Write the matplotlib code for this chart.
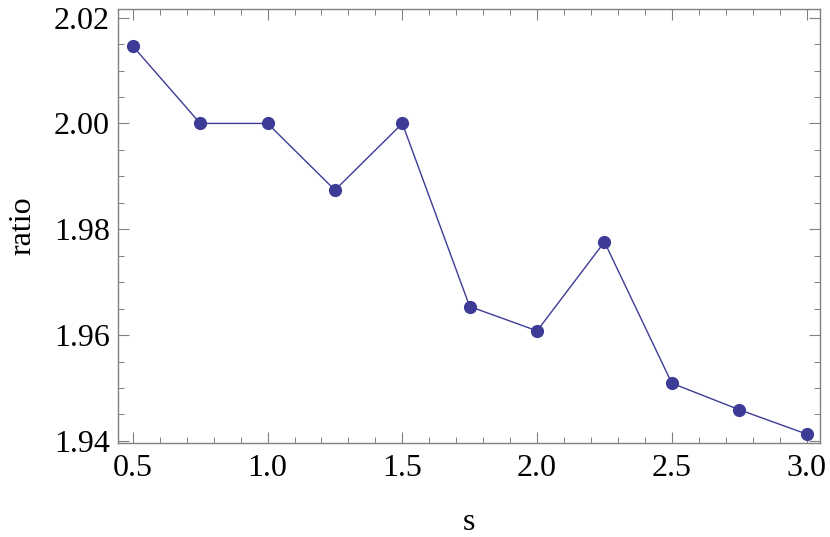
import matplotlib
matplotlib.use("Agg")
import matplotlib.pyplot as plt
from matplotlib.ticker import MultipleLocator, FormatStrFormatter

s_values = [0.5, 0.75, 1.0, 1.25, 1.5, 1.75, 2.0, 2.25, 2.5, 2.75, 3.0]
ratio_values = [2.0146, 2.0000, 2.0000, 1.9874, 2.0000, 1.9654, 1.9608, 1.9776, 1.9509, 1.9459, 1.9413]
x_label = "s"
y_label = "ratio"

plt.rcParams['font.family'] = ['Liberation Serif', 'DejaVu Serif']
plt.rcParams['mathtext.fontset'] = 'stix'

fig = plt.figure(figsize=(8.3, 5.37), dpi=100)
ax = fig.add_axes([0.1422, 0.175, 0.988 - 0.1422, 0.983 - 0.175])

color = '#3C3C96'
ax.plot(s_values, ratio_values, '-', color=color, lw=1.0)
ax.plot(s_values, ratio_values, 'o', color=color, ms=9.5, mec='none')

ax.set_xlim(0.445, 3.05)
ax.set_ylim(1.9396, 2.0216)

ax.xaxis.set_major_locator(MultipleLocator(0.5))
ax.xaxis.set_minor_locator(MultipleLocator(0.1))
ax.yaxis.set_major_locator(MultipleLocator(0.02))
ax.yaxis.set_minor_locator(MultipleLocator(0.005))
ax.xaxis.set_major_formatter(FormatStrFormatter('%.1f'))
ax.yaxis.set_major_formatter(FormatStrFormatter('%.2f'))

frame_color = '#808080'
for sp in ax.spines.values():
    sp.set_color(frame_color)
    sp.set_linewidth(1.0)

ax.tick_params(which='both', direction='in', top=True, right=True, color=frame_color, labelsize=23, labelcolor='black')
ax.tick_params(which='major', length=8, width=0.8)
ax.tick_params(which='minor', length=4, width=0.7)
ax.tick_params(axis='x', which='major', pad=8)
ax.tick_params(axis='y', which='major', pad=6)

ax.set_xlabel(x_label, fontsize=23, labelpad=18)
ax.set_ylabel(y_label, fontsize=23, labelpad=12)

fig.savefig("out.png", dpi=100)
